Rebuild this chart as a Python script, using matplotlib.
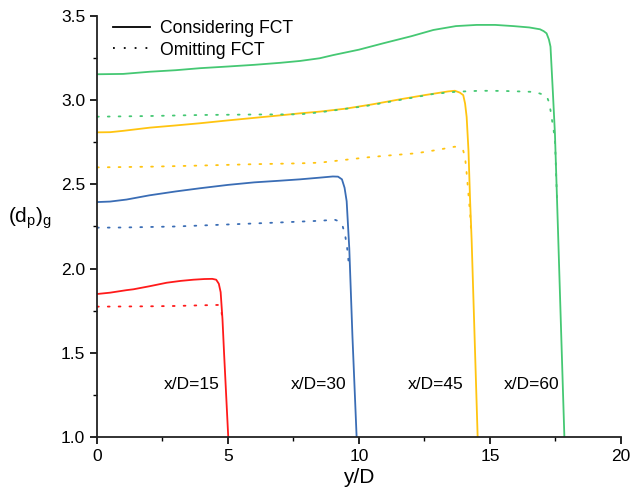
import matplotlib
matplotlib.use("Agg")
import matplotlib.pyplot as plt
from matplotlib.ticker import MultipleLocator

plt.rcParams['font.family'] = ['Liberation Sans', 'DejaVu Sans']
plt.rcParams['mathtext.fontset'] = 'custom'
plt.rcParams['mathtext.rm'] = 'Liberation Sans'

# x/D = 15
red_x = [0, 0.5, 1.13, 1.39, 2, 2.66, 3.2, 3.68, 4.1, 4.4, 4.55, 4.65, 4.72, 4.79, 4.85, 4.93, 5.01]
red_y = [1.849, 1.857, 1.872, 1.877, 1.895, 1.916, 1.927, 1.934, 1.938, 1.939, 1.934, 1.91, 1.86, 1.70, 1.50, 1.25, 1.0]
red_dx = [0, 1, 2, 3, 4, 4.63, 4.70, 4.76, 4.80]
red_dy = [1.774, 1.775, 1.776, 1.778, 1.782, 1.784, 1.77, 1.735, 1.69]

# x/D = 30
blue_x = [0, 0.5, 1.13, 2, 3, 3.93, 5, 6, 7, 7.75, 8.5, 9.0, 9.2, 9.35, 9.45, 9.53, 9.63, 9.75, 9.91]
blue_y = [2.395, 2.398, 2.410, 2.435, 2.458, 2.477, 2.497, 2.512, 2.522, 2.530, 2.540, 2.547, 2.546, 2.53, 2.48, 2.40, 2.12, 1.60, 1.0]
blue_dx = [0, 1, 2, 3, 4, 5, 6, 7, 7.75, 8.51, 9.08, 9.25, 9.38, 9.47, 9.55, 9.63]
blue_dy = [2.243, 2.244, 2.247, 2.25, 2.256, 2.262, 2.268, 2.274, 2.279, 2.284, 2.29, 2.28, 2.25, 2.20, 2.12, 2.0]

# x/D = 45
yel_x = [0, 0.5, 1, 2.02, 3, 3.93, 5, 6, 7, 7.75, 8.5, 9.5, 10.5, 11.56, 12.5, 13.4, 13.66, 13.85, 13.98, 14.05, 14.11, 14.18, 14.24, 14.30, 14.53]
yel_y = [2.809, 2.81, 2.818, 2.837, 2.85, 2.863, 2.88, 2.895, 2.91, 2.922, 2.932, 2.95, 2.975, 3.005, 3.03, 3.052, 3.056, 3.045, 3.03, 2.98, 2.90, 2.70, 2.41, 2.17, 1.0]
yel_dx = [0, 2, 4, 6, 7.75, 8.5, 10.29, 11, 12.2, 13, 13.66, 13.9, 13.98, 14.05, 14.12, 14.2, 14.24, 14.29]
yel_dy = [2.601, 2.605, 2.612, 2.62, 2.625, 2.629, 2.66, 2.67, 2.685, 2.705, 2.724, 2.71, 2.70, 2.66, 2.55, 2.40, 2.33, 2.2]

# x/D = 60
grn_x = [0, 1, 2.02, 3, 3.93, 5, 6, 7, 7.75, 8.5, 9.02, 10, 10.93, 12, 12.84, 13.7, 14.49, 15.2, 15.89, 16.5, 16.91, 17.05, 17.16, 17.25, 17.31, 17.4, 17.48, 17.60, 17.84]
grn_y = [3.154, 3.156, 3.169, 3.178, 3.19, 3.2, 3.21, 3.222, 3.233, 3.249, 3.268, 3.30, 3.338, 3.38, 3.417, 3.44, 3.447, 3.447, 3.44, 3.432, 3.421, 3.41, 3.397, 3.36, 3.318, 3.05, 2.80, 2.21, 1.0]
grn_dx = [0, 2, 3.93, 6, 7.75, 8.51, 10.29, 12.84, 13.7, 14.62, 15.5, 16.53, 16.9, 17.16, 17.25, 17.31, 17.4, 17.48, 17.56]
grn_dy = [2.902, 2.906, 2.912, 2.915, 2.916, 2.928, 2.966, 3.037, 3.05, 3.056, 3.055, 3.05, 3.04, 3.025, 2.99, 2.94, 2.85, 2.77, 2.4]

labels = ['x/D=15', 'x/D=30', 'x/D=45', 'x/D=60']
label_x = [3.6, 8.45, 12.92, 16.6]
label_y = 1.31

c_red = '#ff1a1a'
c_blue = '#3a6db5'
c_yel = '#ffc410'
c_grn = '#45c873'

fig = plt.figure(figsize=(6.31, 4.95), dpi=100)
ax = fig.add_axes([0.1537, 0.1172, 0.8304, 0.8505])

dots = (0, (1, 5))
for xs, ys, dxs, dys, c in [(red_x, red_y, red_dx, red_dy, c_red),
                            (blue_x, blue_y, blue_dx, blue_dy, c_blue),
                            (yel_x, yel_y, yel_dx, yel_dy, c_yel),
                            (grn_x, grn_y, grn_dx, grn_dy, c_grn)]:
    ax.plot(dxs, dys, color=c, lw=1.3, linestyle=dots, dash_capstyle='round')
    ax.plot(xs, ys, color=c, lw=1.3)

for t, lx in zip(labels, label_x):
    ax.text(lx, label_y, t, fontsize=12.5, ha='center', va='center')

# legend handles
ax.plot([], [], color='black', lw=1.3, label='Considering FCT')
ax.plot([], [], color='black', lw=1.3, linestyle=dots, label='Omitting FCT')
h, l = ax.get_legend_handles_labels()
ax.legend(h[-2:], l[-2:], loc='upper left', frameon=False, fontsize=12.7,
          handlelength=2.1, handletextpad=0.55, labelspacing=0.25,
          borderaxespad=0.2, bbox_to_anchor=(0.01, 1.015))

ax.set_xlim(0, 20)
ax.set_ylim(1.0, 3.5)
ax.xaxis.set_major_locator(MultipleLocator(5))
ax.xaxis.set_minor_locator(MultipleLocator(2.5))
ax.yaxis.set_major_locator(MultipleLocator(0.5))
ax.yaxis.set_minor_locator(MultipleLocator(0.25))
ax.yaxis.set_major_formatter(plt.FuncFormatter(lambda v, p: f'{v:.1f}'))
ax.tick_params(which='major', direction='out', length=5, width=1.2, labelsize=12.5)
ax.tick_params(which='minor', direction='out', length=3, width=1.0)
for s in ['top', 'right']:
    ax.spines[s].set_visible(False)
for s in ['left', 'bottom']:
    ax.spines[s].set_linewidth(1.3)
    ax.spines[s].set_color('#222222')

ax.set_xlabel('y/D', fontsize=15, labelpad=3)
ax.set_ylabel(r'(d$_\mathregular{p}$)$_\mathregular{g}$', fontsize=15, rotation=0)
ax.yaxis.set_label_coords(-0.128, 0.49)

fig.savefig('out.png', dpi=100)
